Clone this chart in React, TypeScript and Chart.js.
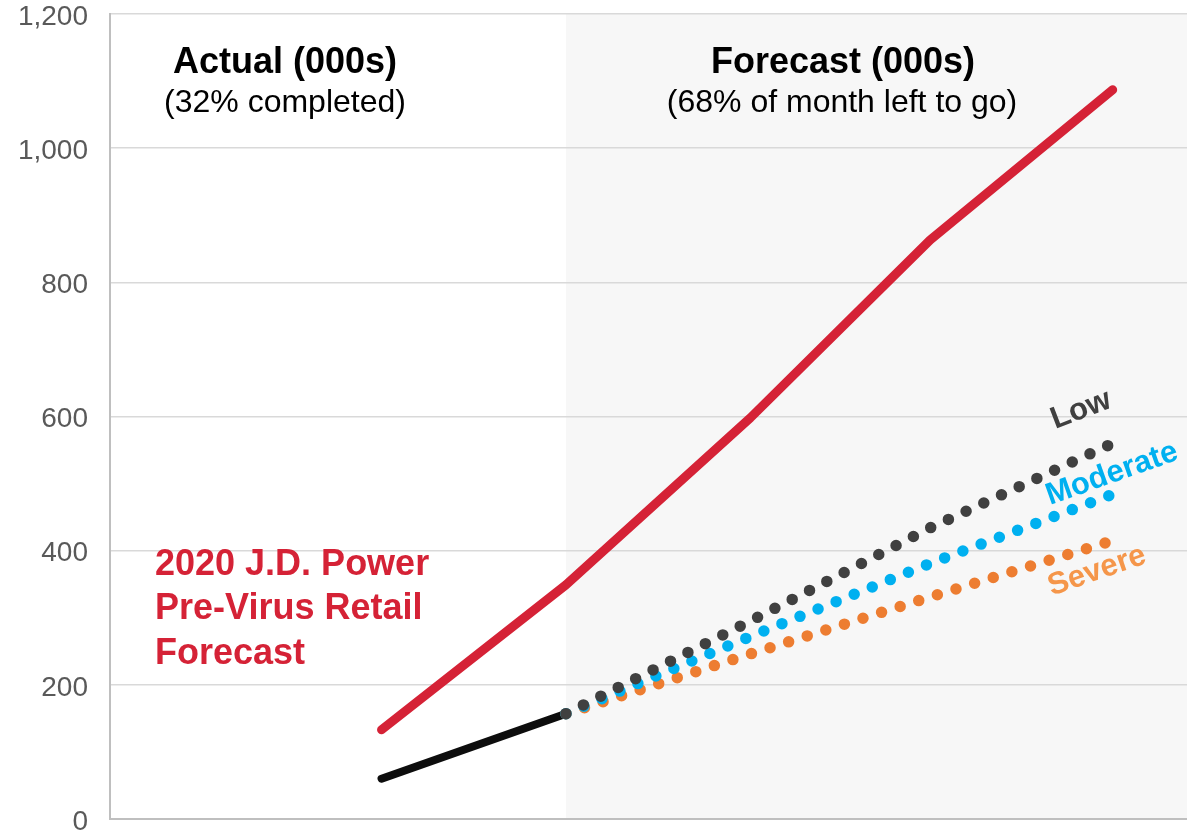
import React, { useEffect, useRef } from "react";
import { Chart, registerables } from "chart.js";

Chart.register(...registerables);

// ---- Data (values in thousands) ----
const X_RED = [1.48, 2.485, 3.49, 4.47, 5.465];
const RED_PREVIRUS = [133, 349, 598, 863, 1087];
const X_ACTUAL = [1.48, 2.485];
const ACTUAL = [60, 157];
const X_FORECAST = [2.485, 3.49, 4.47, 5.465];
const LOW = [157, 295, 434, 560];
const MODERATE = [157, 272, 381, 484];
const SEVERE = [157, 246, 331, 415];
const SPLIT_X = 2.485;
const X_MAX = 5.87;
const Y_MIN = 0;
const Y_MAX = 1200;
const Y_STEP = 200;

const FONT = "'Liberation Sans', Arial, sans-serif";
const RED = "#D52236";
const LOW_C = "#404040";
const MOD_C = "#00B0F0";
const SEV_C = "#ED7D31";
const SEV_TEXT = "#F5964A";

const pts = (xs: number[], ys: number[]) => xs.map((x, i) => ({ x, y: ys[i] }));

const overlay = {
  id: "overlay",
  beforeDraw(chart: any) {
    const { ctx, chartArea, scales } = chart;
    const sx = scales.x.getPixelForValue(SPLIT_X);
    ctx.save();
    ctx.fillStyle = "#F7F7F7";
    ctx.fillRect(sx, chartArea.top, chartArea.right - sx, chartArea.bottom - chartArea.top);
    ctx.restore();
  },
  afterDatasetsDraw(chart: any) {
    const { ctx, chartArea } = chart;
    const L = chartArea.left;
    const T = chartArea.top;
    ctx.save();
    ctx.textAlign = "center";
    ctx.textBaseline = "middle";
    ctx.fillStyle = "#000";
    ctx.font = `bold 36px ${FONT}`;
    ctx.fillText("Actual (000s)", L + 175, T + 49);
    ctx.fillText("Forecast (000s)", L + 733, T + 49);
    ctx.font = `32px ${FONT}`;
    ctx.fillText("(32% completed)", L + 175, T + 89);
    ctx.fillText("(68% of month left to go)", L + 732, T + 89);

    ctx.textAlign = "left";
    ctx.fillStyle = RED;
    ctx.font = `bold 36px ${FONT}`;
    ctx.fillText("2020 J.D. Power", L + 45, T + 551);
    ctx.fillText("Pre-Virus Retail", L + 45, T + 595);
    ctx.fillText("Forecast", L + 45, T + 640);

    const rot = (text: string, x: number, y: number, deg: number, color: string) => {
      ctx.save();
      ctx.translate(x, y);
      ctx.rotate((deg * Math.PI) / 180);
      ctx.textAlign = "center";
      ctx.textBaseline = "middle";
      ctx.fillStyle = color;
      ctx.font = `bold 31px ${FONT}`;
      ctx.fillText(text, 0, 0);
      ctx.restore();
    };
    rot("Low", L + 971, T + 396, -21, LOW_C);
    rot("Moderate", L + 1002, T + 460, -19.5, MOD_C);
    rot("Severe", L + 987, T + 557, -19, SEV_TEXT);
    ctx.restore();
  },
};

export default function App() {
  const ref = useRef<HTMLCanvasElement | null>(null);

  useEffect(() => {
    if (!ref.current) return;
    const dotted = (label: string, data: number[], color: string) => ({
      label,
      data: pts(X_FORECAST, data),
      borderColor: color,
      backgroundColor: color,
      borderWidth: 11.5,
      borderDash: [0, 19.5],
      borderCapStyle: "round" as const,
      borderJoinStyle: "round" as const,
      pointRadius: 0,
      tension: 0,
    });
    const chart = new Chart(ref.current, {
      type: "line",
      data: {
        datasets: [
          dotted("Low", LOW, LOW_C),
          dotted("Moderate", MODERATE, MOD_C),
          dotted("Severe", SEVERE, SEV_C),
          {
            label: "Actual",
            data: pts(X_ACTUAL, ACTUAL),
            borderColor: "#0D0D0D",
            borderWidth: 8,
            borderCapStyle: "round",
            pointRadius: 0,
          },
          {
            label: "2020 J.D. Power Pre-Virus Retail Forecast",
            data: pts(X_RED, RED_PREVIRUS),
            borderColor: RED,
            borderWidth: 9,
            borderCapStyle: "round",
            borderJoinStyle: "round",
            pointRadius: 0,
          },
        ],
      },
      options: {
        animation: false,
        responsive: false,
        layout: { padding: { top: 14, bottom: 15, left: 0, right: 0 } },
        plugins: { legend: { display: false }, tooltip: { enabled: false } },
        scales: {
          x: { type: "linear", min: 0, max: X_MAX, display: false },
          y: {
            min: Y_MIN,
            max: Y_MAX,
            afterFit: (s: any) => {
              s.width = 110;
              s.paddingTop = 0;
              s.paddingBottom = 0;
            },
            ticks: {
              stepSize: Y_STEP,
              padding: 22,
              labelOffset: 3,
              color: "#595959",
              font: { family: FONT, size: 28 },
              callback: (v: any) => Number(v).toLocaleString("en-US"),
            },
            grid: {
              drawTicks: false,
              color: (c: any) => (c.tick && c.tick.value === 0 ? "#BFBFBF" : "#D9D9D9"),
              lineWidth: (c: any) => (c.tick && c.tick.value === 0 ? 2 : 1.5),
            },
            border: { display: true, color: "#BFBFBF", width: 2 },
          },
        },
      },
      plugins: [overlay],
    });
    return () => chart.destroy();
  }, []);

  return (
    <div style={{ position: "absolute", left: 0, top: 0, width: 1187, height: 834, background: "#fff" }}>
      <canvas ref={ref} width={1187} height={834} />
    </div>
  );
}
